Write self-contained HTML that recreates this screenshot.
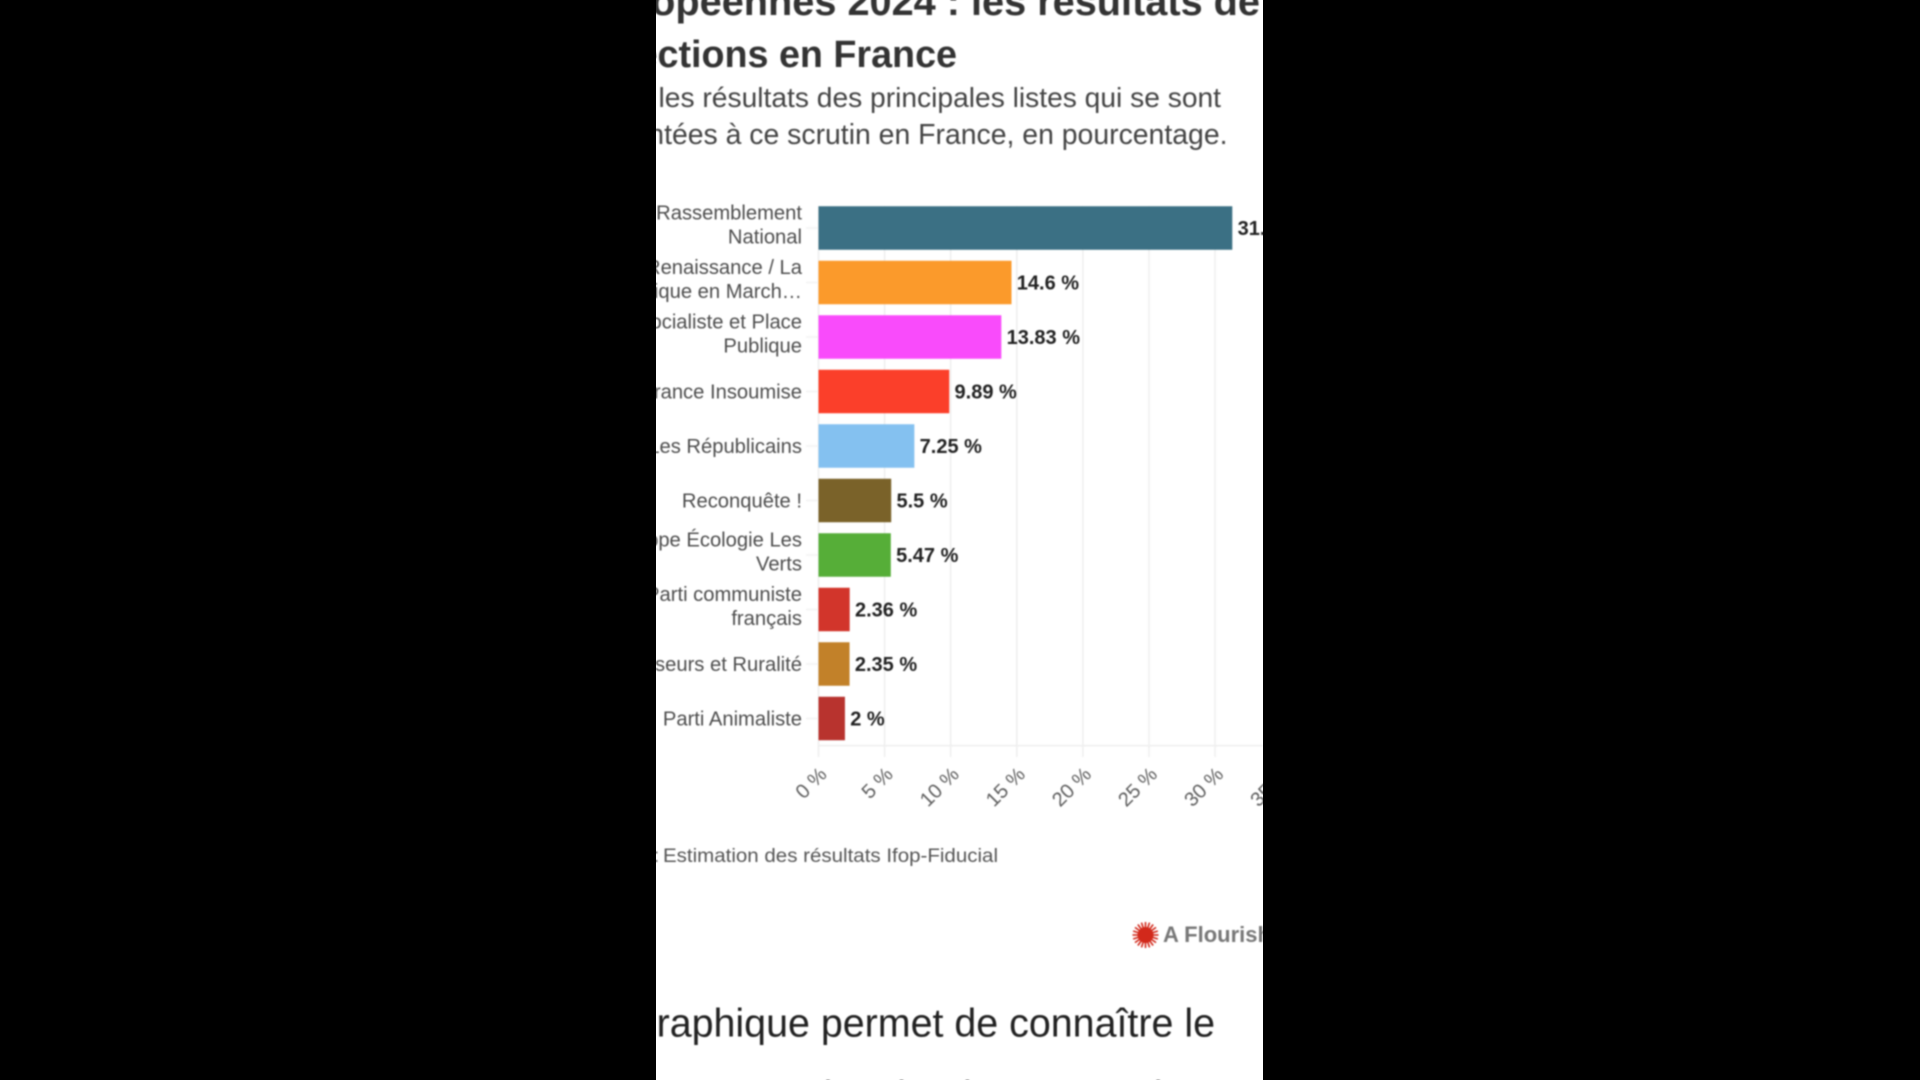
<!DOCTYPE html>
<html lang="fr">
<head>
<meta charset="utf-8">
<title>Européennes 2024 : les résultats des élections en France</title>
<style>
html,body{margin:0;padding:0;background:#000;width:1920px;height:1080px;overflow:hidden}
svg{display:block;position:absolute;left:0;top:0;font-family:"Liberation Sans",sans-serif}
#content{filter:blur(0.7px)}
</style>
</head>
<body>
<svg id="chart" xmlns="http://www.w3.org/2000/svg" width="1920" height="1080" viewBox="0 0 1920 1080">
  <defs><clipPath id="panel-clip"><rect x="656" y="0" width="607" height="1080"></rect></clipPath></defs>
  <rect x="0" y="0" width="1920" height="1080" fill="#000"></rect>
  <rect x="656" y="0" width="607" height="1080" fill="#fff"></rect>
  <g id="content" clip-path="url(#panel-clip)">
    <g font-weight="700" fill="#333" font-size="39.7">
      <text x="1260" y="15" text-anchor="end">Européennes 2024 : les résultats de</text>
      <text x="1264" y="15">s</text>
      <text x="957" y="67" text-anchor="end" font-size="37.7">élections en France</text>
    </g>
    <g fill="#444" font-size="28.2">
      <text x="1221" y="107" text-anchor="end">Voici les résultats des principales listes qui se sont</text>
      <text x="1227.5" y="144" text-anchor="end" font-size="28.4">présentées à ce scrutin en France, en pourcentage.</text>
    </g>
    <g id="grid"></g>
    <g id="bars"></g>
    <g id="cats" fill="#4d4d4d" font-size="20.2"></g>
    <g id="vals" fill="#222" font-size="20" font-weight="700"></g>
    <g id="ticks" fill="#5e5e5e" font-size="20"></g>
    <text x="659" y="862" text-anchor="end" fill="#555" font-size="19">Source :</text>
    <text x="663" y="862" fill="#555" font-size="19" textLength="335" lengthAdjust="spacingAndGlyphs">Estimation des résultats Ifop-Fiducial</text>
    <g id="logo">
      <g id="star"></g>
      <text x="1163" y="942" fill="#777" font-size="22" font-weight="700">A Flourish chart</text>
    </g>
    <text x="1215" y="1036.7" text-anchor="end" fill="#222" font-size="39.4">Ce graphique permet de connaître le</text>
    <text y="1109" fill="#222" font-size="39.4"><tspan x="747">nombre</tspan><tspan x="884">de</tspan><tspan x="963">la</tspan><tspan x="1064">monde</tspan></text>
  </g>
</svg>
<script>
const categories = [
  ["Rassemblement", "National"],
  ["Renaissance / La", "République en March…"],
  ["Parti Socialiste et Place", "Publique"],
  ["La France Insoumise"],
  ["Les Républicains"],
  ["Reconquête !"],
  ["Europe Écologie Les", "Verts"],
  ["Parti communiste", "français"],
  ["Chasseurs et Ruralité"],
  ["Parti Animaliste"]
];
const seriesValues = [31.3, 14.6, 13.83, 9.89, 7.25, 5.5, 5.47, 2.36, 2.35, 2];
const tickValues = [0, 5, 10, 15, 20, 25, 30, 35];
const barColors = ["#3b7084", "#fb9a2b", "#f94bfb", "#fb3f2a", "#84c1f0", "#7a6229", "#56ae38", "#d2352b", "#c28129", "#b8332e"];

const NS = "http://www.w3.org/2000/svg";
const plotLeft = 818.5, unit = 13.22, firstCenter = 228, step = 54.5, barHeight = 43.5;
const axisY = 745.7, gridTop = 206, gridBottom = 757;
function xScale(v) { return plotLeft + v * unit; }
function yCenter(i) { return firstCenter + i * step; }
function mk(tag, parent, attrs, txt) {
  const el = document.createElementNS(NS, tag);
  for (const k in attrs) el.setAttribute(k, attrs[k]);
  if (txt !== undefined) el.textContent = txt;
  parent.appendChild(el);
  return el;
}
const grid = document.getElementById("grid");
const bars = document.getElementById("bars");
const cats = document.getElementById("cats");
const vals = document.getElementById("vals");
const ticks = document.getElementById("ticks");
const star = document.getElementById("star");

tickValues.forEach(function (t) {
  const line = mk("line", grid, { x1: xScale(t), x2: xScale(t), y1: gridTop, y2: gridBottom, stroke: "#efefef", "stroke-width": 1.6 });
  
  
  const ax = xScale(t) + 9.5, ay = 775.5;
  const label = mk("text", ticks, { x: ax, y: ay, "text-anchor": "end", transform: "rotate(-45 " + ax + " " + ay + ")" }, t + " %");
  
  
});
const axis = mk("line", grid, { x1: plotLeft, x2: 1263, y1: axisY, y2: axisY, stroke: "#efefef", "stroke-width": 1.6 });



seriesValues.forEach(function (v, i) {
  const c = yCenter(i);
  const tick = mk("line", grid, { x1: 806, x2: plotLeft, y1: c, y2: c, stroke: "#f3f3f3", "stroke-width": 1.6 });
  
  
  const bar = mk("rect", bars, { x: xScale(0), y: c - barHeight / 2, width: xScale(v) - xScale(0), height: barHeight, fill: barColors[i] });
  
  
  const val = mk("text", vals, { x: xScale(v) + 5.3, y: c + 7 }, v + " %");
  
  
  const lines = categories[i];
  lines.forEach(function (s, j) {
    const dy = lines.length === 1 ? 7 : (j === 0 ? -8.3 : 15.7);
    const cat = mk("text", cats, { x: 802, y: c + dy, "text-anchor": "end" }, s);
    
    
  });
});

const starX = 1145.5, starY = 935;
for (let a = 0; a < 20; a++) {
  const th = a * Math.PI / 10;
  const spoke = mk("line", star, { x1: starX, y1: starY, x2: starX + 13 * Math.cos(th), y2: starY + 13 * Math.sin(th), stroke: "#d2291b", "stroke-width": 1.6 });
  
  
}
const core = mk("circle", star, { cx: starX, cy: starY, r: 8, fill: "#d2291b" });


</script>
</body>
</html>
